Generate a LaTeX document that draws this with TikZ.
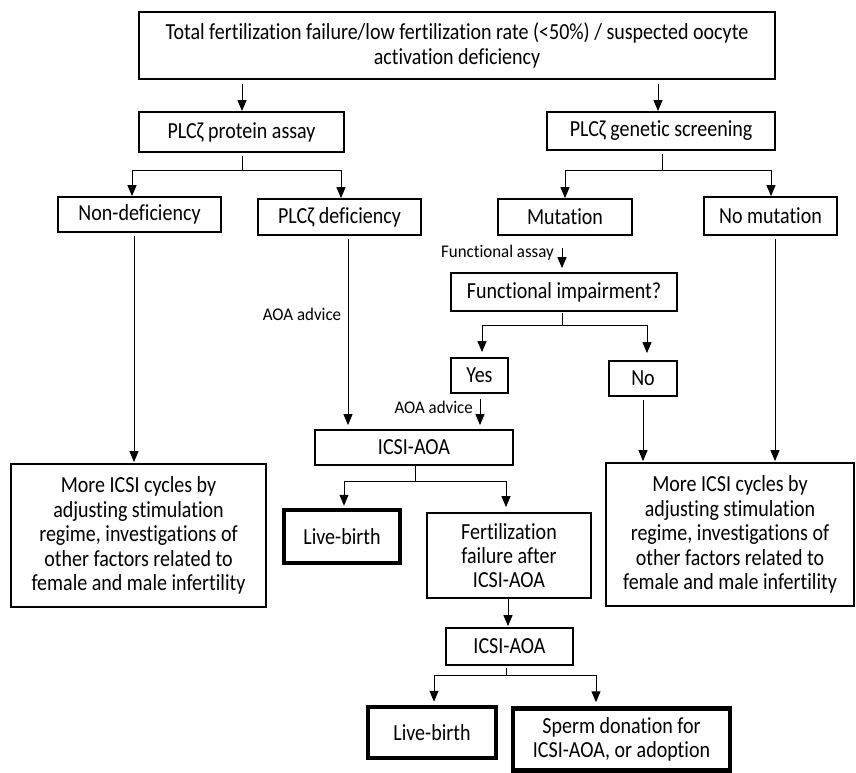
\documentclass[tikz,border=0pt]{standalone}
\usepackage{fontspec}
\setmainfont{Carlito}[Ligatures=NoCommon]
\newfontfamily\boxfont{Carlito}[Ligatures=NoCommon, FakeStretch=0.87]
\newfontfamily\lblfont{Carlito}[Ligatures=NoCommon, FakeStretch=0.95]
\usetikzlibrary{arrows.meta}
\begin{document}
\begin{tikzpicture}[x=1pt,y=-1pt,
  box/.style={draw, line width=1.8pt, align=center, inner sep=0pt, font=\boxfont\fontsize{23}{24.4}\selectfont},
  thickbox/.style={box, line width=4.5pt},
  lbl/.style={font=\lblfont\fontsize{17.8}{20}\selectfont, inner sep=0pt},
  conn/.style={line width=1pt},
  arr/.style={conn, -{Triangle[length=11pt,width=9pt]}}]
\useasboundingbox (0,0) rectangle (856,772);
% boxes
\node[box, minimum width=636pt, minimum height=67pt] (top) at (457,45.5)
  {Total fertilization failure/low fertilization rate (<50\%) / suspected oocyte\\activation deficiency};
\node[box, minimum width=205pt, minimum height=40pt] (pa) at (241.5,132) {PLCζ protein assay};
\node[box, minimum width=228pt, minimum height=38pt] (gs) at (661,131) {PLCζ genetic screening};
\node[box, minimum width=163pt, minimum height=35pt] (nd) at (139.5,214.5) {Non-deficiency};
\node[box, minimum width=163pt, minimum height=36pt] (pd) at (339.5,217) {PLCζ deficiency};
\node[box, minimum width=134pt, minimum height=36pt] (mu) at (565,217) {Mutation};
\node[box, minimum width=133pt, minimum height=38pt] (nm) at (770.5,216) {No mutation};
\node[box, minimum width=226pt, minimum height=38pt] (fi) at (564,292) {Functional impairment?};
\node[box, minimum width=57pt, minimum height=35pt] (yes) at (479.5,375.5) {Yes};
\node[box, minimum width=68pt, minimum height=35pt] (no) at (643,378.5) {No};
\node[box, minimum width=198pt, minimum height=35pt] (ia1) at (414,447.5) {ICSI-AOA};
\node[box, minimum width=255pt, minimum height=143pt] (lm) at (138.5,535.5)
  {More ICSI cycles by\\adjusting stimulation\\regime, investigations of\\other factors related to\\female and male infertility};
\node[box, minimum width=248pt, minimum height=143pt] (rm) at (730,534.5)
  {More ICSI cycles by\\adjusting stimulation\\regime, investigations of\\other factors related to\\female and male infertility};
\node[thickbox, minimum width=116pt, minimum height=53pt] (lb1) at (342,536.5) {Live-birth};
\node[box, minimum width=164pt, minimum height=85pt] (ff) at (509,555.5) {Fertilization\\failure after\\ICSI-AOA};
\node[box, minimum width=127pt, minimum height=37pt] (ia2) at (509.5,646.5) {ICSI-AOA};
\node[thickbox, minimum width=128pt, minimum height=51pt] (lb2) at (432,732.5) {Live-birth};
\node[thickbox, minimum width=217pt, minimum height=62pt] (sd) at (621.5,739.5) {Sperm donation for\\ICSI-AOA, or adoption};
% labels
\node[lbl] (aoa1) at (302,314) {AOA advice};
\node[lbl, anchor=east] (fa) at (554,253) {Functional assay};
\node[lbl, anchor=east] (aoa2) at (473,407) {AOA advice};
% column coordinates
\coordinate (xa) at (242,0);
\coordinate (xb) at (658,0);
\coordinate (xc) at (134,0);
\coordinate (xd) at (348,0);
\coordinate (xe) at (562,0);
\coordinate (xf) at (480,0);
\coordinate (xg) at (643,0);
\coordinate (xh) at (775,0);
\coordinate (xi) at (508,0);
% junctions
\coordinate (j1) at (242,170); \coordinate (j1l) at (132,170); \coordinate (j1r) at (341,170);
\coordinate (j2) at (662,170); \coordinate (j2l) at (565,170); \coordinate (j2r) at (771,170);
\coordinate (j3) at (562,325); \coordinate (j3l) at (482,325); \coordinate (j3r) at (647,325);
\coordinate (j4) at (415,481); \coordinate (j4l) at (344,481); \coordinate (j4r) at (506,481);
\coordinate (j5) at (506,675); \coordinate (j5l) at (434,675); \coordinate (j5r) at (596,675);
% top arrows
\draw[arr, shorten <=4pt] (top.south -| xa) -- (pa.north -| xa);
\draw[arr, shorten <=4pt] (top.south -| xb) -- (gs.north -| xb);
% protein assay split
\draw[conn, shorten <=3pt] (pa.south -| j1) -- (j1);
\draw[conn] (j1l) -- (j1r);
\draw[arr] (j1l) -- (j1l |- nd.north);
\draw[arr] (j1r) -- (j1r |- pd.north);
% genetic screening split
\draw[conn, shorten <=3pt] (gs.south -| j2) -- (j2);
\draw[conn] (j2l) -- (j2r);
\draw[arr] (j2l) -- (j2l |- mu.north);
\draw[arr] (j2r) -- (j2r |- nm.north);
% long arrows
\draw[arr, shorten <=3pt, shorten >=1pt] (nd.south -| xc) -- (lm.north -| xc);
\draw[arr, shorten <=3pt, shorten >=4pt] (pd.south -| xd) -- (ia1.north -| xd);
\draw[arr, shorten <=12pt, shorten >=4pt] (mu.south -| xe) -- (fi.north -| xe);
\draw[arr, shorten <=3pt, shorten >=1pt] (nm.south -| xh) -- (rm.north -| xh);
% functional impairment split
\draw[conn, shorten <=1pt] (fi.south -| j3) -- (j3);
\draw[conn] (j3l) -- (j3r);
\draw[arr, shorten >=5pt] (j3l) -- (j3l |- yes.north);
\draw[arr, shorten >=7pt] (j3r) -- (j3r |- no.north);
\draw[arr, shorten <=5pt, shorten >=4pt] (yes.south -| xf) -- (ia1.north -| xf);
\draw[arr, shorten <=3pt, shorten >=1pt] (no.south -| xg) -- (rm.north -| xg);
% ICSI-AOA split
\draw[conn] (ia1.south -| j4) -- (j4);
\draw[conn] (j4l) -- (j4r);
\draw[arr, shorten >=2pt] (j4l) -- (j4l |- lb1.north);
\draw[arr, shorten >=5pt] (j4r) -- (j4r |- ff.north);
\draw[arr, shorten >=1pt] (ff.south -| xi) -- (ia2.north -| xi);
% second ICSI-AOA split
\draw[conn, shorten <=2pt] (ia2.south -| j5) -- (j5);
\draw[conn] (j5l) -- (j5r);
\draw[arr, shorten >=3pt] (j5l) -- (j5l |- lb2.north);
\draw[arr, shorten >=4pt] (j5r) -- (j5r |- sd.north);
\end{tikzpicture}
\end{document}
